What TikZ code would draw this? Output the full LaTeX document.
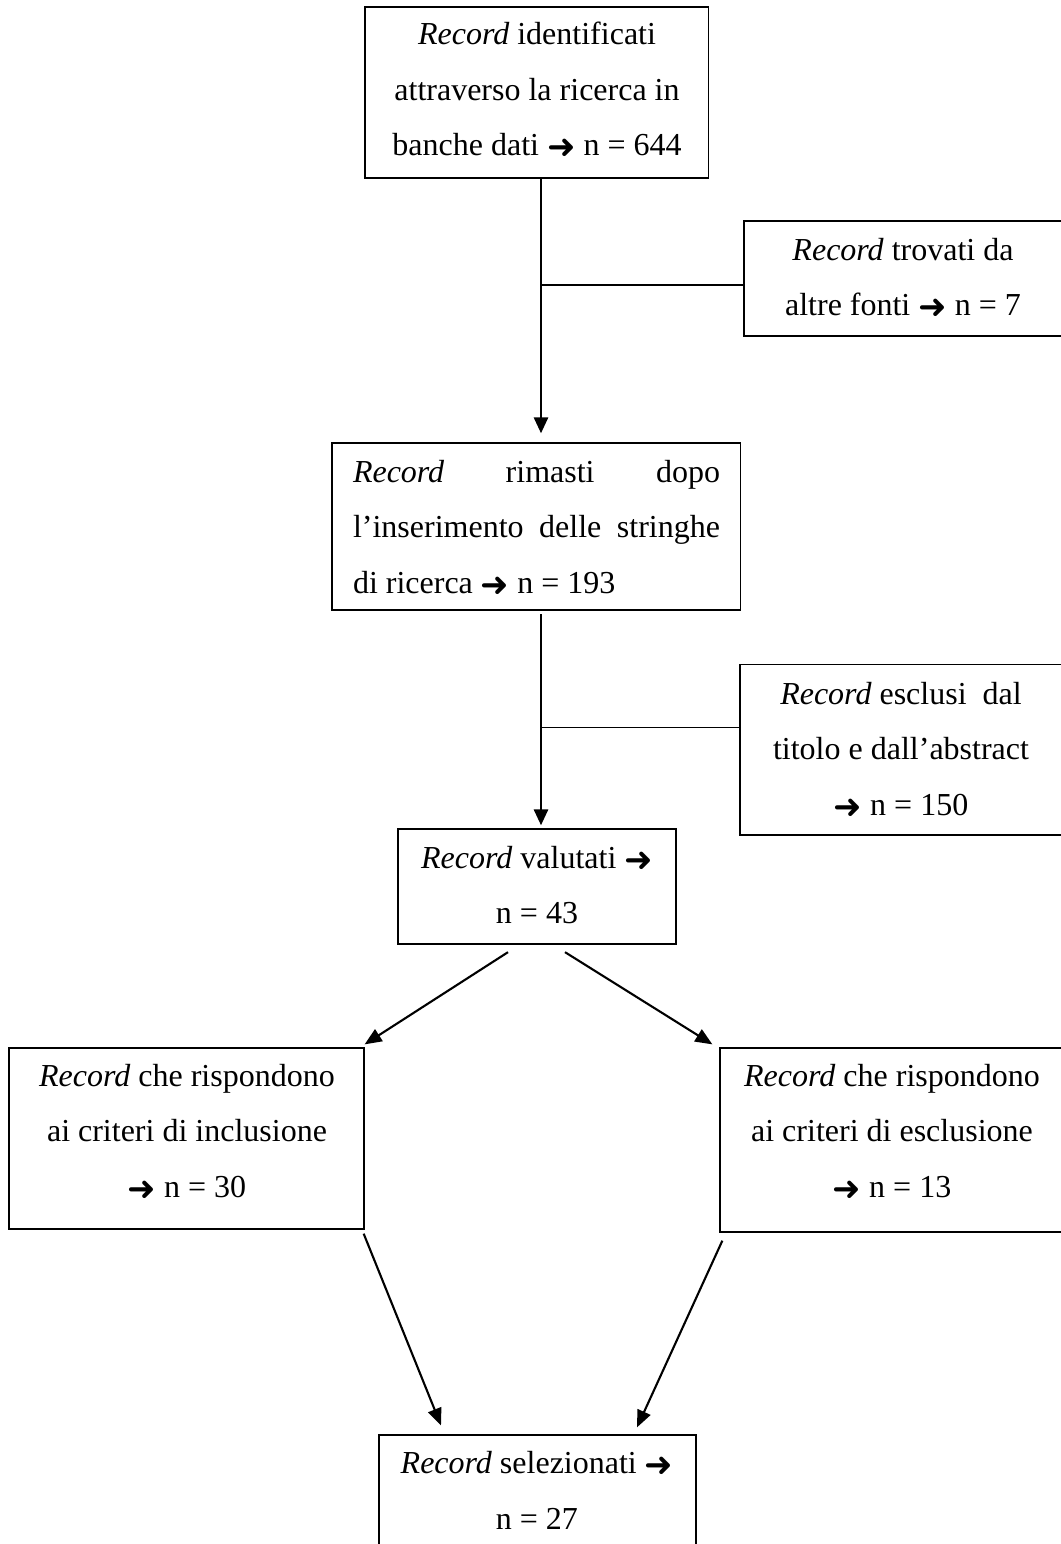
\documentclass[tikz,border=0pt]{standalone}
\usepackage{fontspec}
\setmainfont{Liberation Serif}
\newfontfamily\arrowfont{DejaVu Sans}
\usetikzlibrary{arrows.meta,calc}
\newcommand{\myarr}{\raisebox{-3pt}{\arrowfont\fontsize{34}{34}\selectfont ➜}}
\tikzset{
  box/.style={draw=black, line width=1.3pt, inner sep=0pt},
  txt/.style={anchor=base, inner sep=0pt, font=\fontsize{32}{55.5}\selectfont},
  arr/.style={line width=2.8pt, -{Triangle[length=16pt,width=14pt]}},
  darr/.style={line width=2.1pt, -{Triangle[length=17pt,width=14pt]}},
  branch/.style={line width=1.4pt}
}
\begin{document}
\begin{tikzpicture}[x=1pt,y=-1pt]
\useasboundingbox (0,0) rectangle (1060,1544);
% boxes
\node[box, minimum width=343.5pt, minimum height=171pt] (b1) at (536.75,92.5) {};
\node[box, minimum width=319pt, minimum height=115pt] (b2) at (903.5,278.5) {};
\node[box, minimum width=408.6pt, minimum height=167pt] (b3) at (536.3,526.5) {};
\node[box, minimum width=324pt, minimum height=170.5pt] (b4) at (902,749.75) {};
\node[box, minimum width=278pt, minimum height=115pt] (b5) at (537,886.5) {};
\node[box, minimum width=355pt, minimum height=181pt] (b6) at (186.5,1138.5) {};
\node[box, minimum width=344pt, minimum height=184pt] (b7) at (892,1140) {};
\node[box, minimum width=317pt, minimum height=119pt] (b8) at (537.5,1494.5) {};
% texts
\node[txt] (t1) at (537,45) {\parbox[t]{330pt}{\centering \textit{Record} identificati\\ attraverso la ricerca in\\ banche dati \myarr{} n = 644}};
\node[txt] (t2) at (903,260) {\parbox[t]{300pt}{\centering \textit{Record} trovati da\\ altre fonti \myarr{} n = 7}};
\node[txt] (t3) at (536.5,482) {\parbox[t]{367pt}{\makebox[\linewidth][s]{\textit{Record} rimasti dopo}\\ \makebox[\linewidth][s]{l’inserimento delle stringhe}\\ di ricerca \myarr{} n = 193}};
\node[txt] (t4) at (901,704) {\parbox[t]{300pt}{\centering \textit{Record} esclusi\ \ dal\\ titolo e dall’abstract\\ \myarr{} n = 150}};
\node[txt] (t5) at (537,868) {\parbox[t]{270pt}{\centering \textit{Record} valutati \myarr{}\\ n = 43}};
\node[txt] (t6) at (187,1086) {\parbox[t]{340pt}{\centering \textit{Record} che rispondono\\ ai criteri di inclusione\\ \myarr{} n = 30}};
\node[txt] (t7) at (892,1086) {\parbox[t]{330pt}{\centering \textit{Record} che rispondono\\ ai criteri di esclusione\\ \myarr{} n = 13}};
\node[txt] (t8) at (537,1473.5) {\parbox[t]{310pt}{\centering \textit{Record} selezionati \myarr{}\\ n = 27}};
% connectors
\coordinate (vx) at (541,0);
\draw[arr, shorten >=9pt] (b1.south -| vx) -- (b3.north -| vx);
\coordinate (j1) at (541,285);
\draw[branch] (j1) -- (j1 -| b2.west);
\draw[arr, shorten <=3.5pt, shorten >=3pt] (b3.south -| vx) -- (b5.north -| vx);
\coordinate (j2) at (541,727.5);
\draw[branch] (j2) -- (j2 -| b4.west);
\draw[darr] ($(b5.south)+(-29,7.5)$) -- ($(b6.north east)+(0,-3)$);
\draw[darr] ($(b5.south)+(28,7.5)$) -- ($(b7.north west)+(-7,-3)$);
\draw[darr] ($(b6.south east)+(-1,4)$) -- ($(b8.north)+(-96.5,-9)$);
\draw[darr] ($(b7.south west)+(3,8)$) -- ($(b8.north)+(99.5,-7)$);
\end{tikzpicture}
\end{document}
